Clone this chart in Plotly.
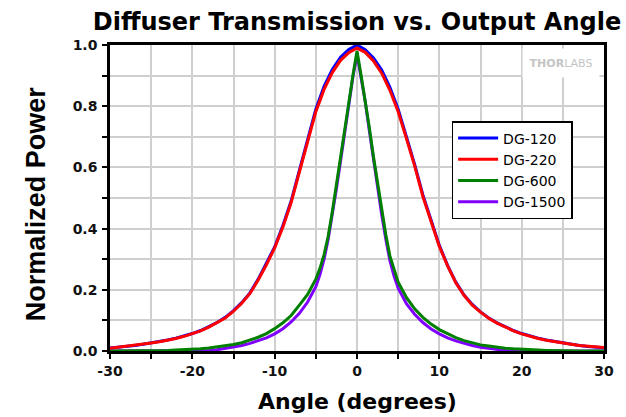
import plotly.graph_objects as go

# ---- data ----
angles_wide = list(range(-30, 31))
dg120 = [0.010, 0.012, 0.015, 0.018, 0.022, 0.026, 0.031, 0.036, 0.042, 0.049,
         0.057, 0.067, 0.079, 0.093, 0.110, 0.132, 0.158, 0.190, 0.235, 0.285,
         0.340, 0.410, 0.490, 0.590, 0.690, 0.790, 0.865, 0.920, 0.960, 0.985,
         1.000,
         0.985, 0.958, 0.918, 0.862, 0.790, 0.700, 0.610, 0.510, 0.425, 0.345,
         0.280, 0.225, 0.183, 0.152, 0.128, 0.108, 0.092, 0.079, 0.067, 0.057,
         0.049, 0.042, 0.036, 0.031, 0.026, 0.022, 0.018, 0.015, 0.012, 0.011]
dg220 = [0.009, 0.012, 0.015, 0.018, 0.022, 0.026, 0.030, 0.035, 0.041, 0.048,
         0.056, 0.066, 0.078, 0.092, 0.108, 0.130, 0.156, 0.188, 0.232, 0.282,
         0.337, 0.405, 0.485, 0.585, 0.685, 0.782, 0.855, 0.910, 0.950, 0.975,
         0.990,
         0.976, 0.948, 0.908, 0.852, 0.782, 0.695, 0.605, 0.505, 0.420, 0.342,
         0.278, 0.223, 0.182, 0.150, 0.127, 0.107, 0.091, 0.078, 0.066, 0.056,
         0.048, 0.041, 0.035, 0.030, 0.026, 0.022, 0.018, 0.015, 0.012, 0.011]

angles_narrow = (list(range(-30, -4)) + [-4.5, -4, -3.5, -3, -2.5, -2, -1.5, -1, -0.5, 0,
                 0.5, 1, 1.5, 2, 2.5, 3, 3.5, 4, 4.5] + list(range(5, 31)))
dg600 = [0.0, 0.0, 0.0, 0.0, 0.0, 0.001, 0.001, 0.002, 0.003, 0.004,
         0.005, 0.007, 0.010, 0.013, 0.017, 0.021, 0.027, 0.035, 0.045, 0.057,
         0.073, 0.092, 0.116, 0.150, 0.185, 0.235,
         0.270, 0.315, 0.375, 0.455, 0.540, 0.625, 0.720, 0.810, 0.900, 0.980,
         0.900, 0.820, 0.730, 0.635, 0.545, 0.465, 0.380, 0.310, 0.265,
         0.225, 0.175, 0.138, 0.110, 0.088, 0.070, 0.056, 0.044, 0.034, 0.026,
         0.020, 0.016, 0.012, 0.009, 0.007, 0.005, 0.004, 0.003, 0.002, 0.001,
         0.001, 0.0, 0.0, 0.0, 0.0, 0.0]
dg1500 = [0.0, 0.0, 0.0, 0.0, 0.0, 0.0, 0.0, 0.0, 0.0, 0.0,
          0.0, 0.0, 0.002, 0.004, 0.008, 0.012, 0.018, 0.025, 0.033, 0.043,
          0.056, 0.073, 0.095, 0.123, 0.160, 0.210,
          0.250, 0.300, 0.365, 0.445, 0.530, 0.620, 0.715, 0.810, 0.895, 0.970,
          0.895, 0.815, 0.720, 0.625, 0.530, 0.445, 0.365, 0.295, 0.245,
          0.205, 0.155, 0.120, 0.093, 0.072, 0.056, 0.043, 0.033, 0.025, 0.018,
          0.012, 0.008, 0.004, 0.002, 0.0, 0.0, 0.0, 0.0, 0.0, 0.0,
          0.0, 0.0, 0.0, 0.0, 0.0, 0.0]

x_ticks = [-30, -20, -10, 0, 10, 20, 30]
y_ticks = [0.0, 0.2, 0.4, 0.6, 0.8, 1.0]

series = [
    ("DG-1500", angles_narrow, dg1500, "#8000ff", 4),
    ("DG-600", angles_narrow, dg600, "#008000", 3),
    ("DG-120", angles_wide, dg120, "#0000ff", 1),
    ("DG-220", angles_wide, dg220, "#ff0000", 2),
]

fig = go.Figure()
for name, xs, ys, color, rank in series:
    fig.add_trace(go.Scatter(x=xs, y=ys, mode="lines", name=name,
                             line=dict(color=color, width=3),
                             legendrank=rank))

tick_font = dict(family="DejaVu Sans", size=14, color="#111111", weight="bold")
grid_col = "#cfcfcf"

fig.update_xaxes(range=[-30, 30], tickvals=x_ticks, ticktext=[str(v) for v in x_ticks],
                 showline=True, linecolor="black", linewidth=2.5, mirror=True,
                 ticks="outside", ticklen=5, tickwidth=2, tickcolor="black",
                 showgrid=True, gridcolor=grid_col, gridwidth=1.5,
                 minor=dict(dtick=5, ticks="outside", ticklen=5, tickwidth=2,
                            tickcolor="black", showgrid=True, gridcolor=grid_col, gridwidth=1.5),
                 tickfont=tick_font, zeroline=False)
fig.update_yaxes(range=[0, 1], tickvals=y_ticks, ticktext=[f"{v:.1f}" for v in y_ticks],
                 showline=True, linecolor="black", linewidth=2.5, mirror=True,
                 ticks="outside", ticklen=5, tickwidth=2, tickcolor="black",
                 showgrid=True, gridcolor=grid_col, gridwidth=1.5,
                 minor=dict(dtick=0.1, ticks="outside", ticklen=5, tickwidth=2,
                            tickcolor="black", showgrid=True, gridcolor=grid_col, gridwidth=1.5),
                 tickfont=tick_font, zeroline=False, ticklabelstandoff=2)

fig.update_layout(
    width=626, height=417,
    margin=dict(l=110, r=20, t=45, b=66),
    paper_bgcolor="white", plot_bgcolor="white",
    title=dict(text="Diffuser Transmission vs. Output Angle",
               font=dict(family="DejaVu Sans", size=24, color="black", weight="bold"),
               x=0.5, xref="paper", xanchor="center",
               y=1 - 22 / 417, yref="container", yanchor="middle"),
    legend=dict(x=(453 - 110) / 496, y=(351 - 121) / 306, xanchor="left", yanchor="top",
                bgcolor="white", bordercolor="black", borderwidth=1.5,
                font=dict(family="DejaVu Sans", size=14, color="black"),
                itemwidth=40, tracegroupgap=0),
    showlegend=True,
    annotations=[
        dict(text="Normalized Power", textangle=-90, xref="paper", yref="paper",
             x=(36 - 110) / 496, y=(351 - 204) / 306, xanchor="center", yanchor="middle",
             showarrow=False,
             font=dict(family="Liberation Sans", size=27, color="black", weight="bold")),
        dict(text="Angle (degrees)", xref="paper", yref="paper",
             x=0.5, y=(351 - 401) / 306, xanchor="center", yanchor="middle",
             showarrow=False,
             font=dict(family="DejaVu Sans", size=22, color="black", weight="bold")),
        dict(text="<b>THOR</b>LABS", xref="paper", yref="paper",
             x=(563 - 110) / 496, y=(351 - 63) / 306, xanchor="center", yanchor="middle",
             showarrow=False, bgcolor="white", width=74, height=26,
             font=dict(family="DejaVu Sans", size=11, color="#c4c4c4")),
    ],
)

fig.write_html("out.html", post_script="document.body.style.margin='0';",
               config={"displayModeBar": False})
